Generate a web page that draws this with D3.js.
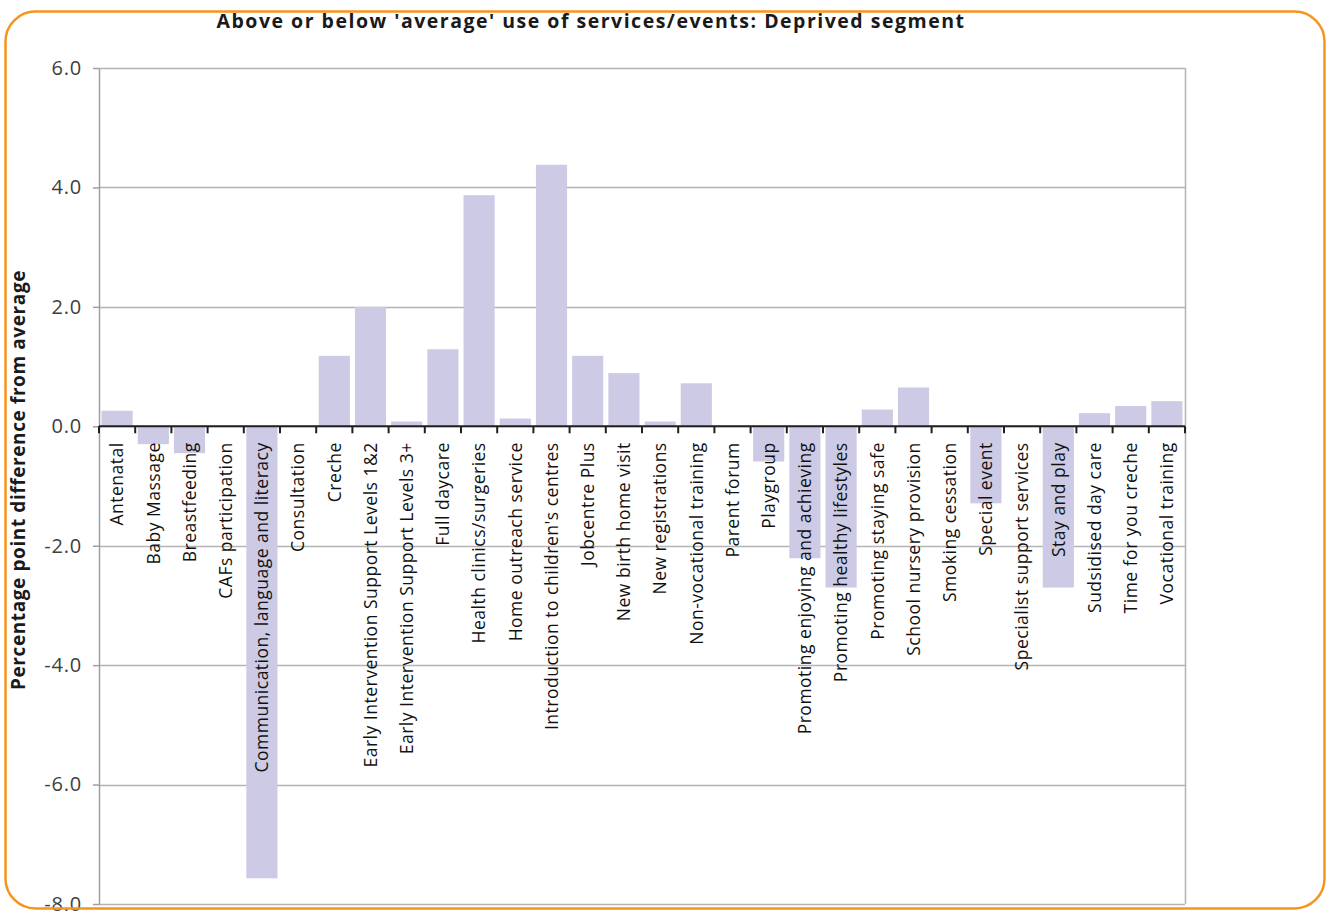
<!DOCTYPE html>
<html>
<head>
<meta charset="utf-8">
<script src="https://cdn.jsdelivr.net/npm/d3@7"></script>
<style>
  body { margin: 0; background: #fff; }
  svg { display: block; }
  .tick text { font-family: "Open Sans", sans-serif; }
</style>
</head>
<body>
<div id="chart"></div>
<script>
// data
CATEGORIES = ["Antenatal", "Baby Massage", "Breastfeeding", "CAFs participation",
  "Communication, language and literacy", "Consultation", "Creche",
  "Early Intervention Support Levels 1&2", "Early Intervention Support Levels 3+",
  "Full daycare", "Health clinics/surgeries", "Home outreach service",
  "Introduction to children's centres", "Jobcentre Plus", "New birth home visit",
  "New registrations", "Non-vocational training", "Parent forum", "Playgroup",
  "Promoting enjoying and achieving", "Promoting healthy lifestyles",
  "Promoting staying safe", "School nursery provision", "Smoking cessation",
  "Special event", "Specialist support services", "Stay and play",
  "Sudsidised day care", "Time for you creche", "Vocational training"]
VALUES = [0.26, -0.30, -0.45, 0.0, -7.57, 0.0, 1.18, 2.0, 0.08, 1.29, 3.87, 0.13,
  4.38, 1.18, 0.89, 0.08, 0.72, 0.0, -0.59, -2.21, -2.70, 0.28, 0.65, 0.0,
  -1.29, 0.0, -2.70, 0.22, 0.34, 0.42]
Y_TICKS = [6, 4, 2, 0, -2, -4, -6, -8]
TITLE = "Above or below 'average' use of services/events: Deprived segment"
Y_LABEL = "Percentage point difference from average"

WIDTH = 1326
HEIGHT = 911
margin = {left: 99, right: 141, top: 68, bottom: 7}

svg = d3.select("#chart").append("svg")
  .attr("width", WIDTH)
  .attr("height", HEIGHT)

x = d3.scaleBand()
  .domain(CATEGORIES)
  .range([margin.left, WIDTH - margin.right])
  .paddingInner(0.14)
  .paddingOuter(0.07)

y = d3.scaleLinear()
  .domain([-8, 6])
  .range([HEIGHT - margin.bottom, margin.top])

// gridlines
svg.append("g")
  .selectAll("line")
  .data(Y_TICKS)
  .enter()
  .append("line")
    .attr("x1", margin.left)
    .attr("x2", WIDTH - margin.right)
    .attr("y1", function(d){ return Math.round(y(d)) + 0.5 })
    .attr("y2", function(d){ return Math.round(y(d)) + 0.5 })
    .style("stroke", "#b4b4b4")
    .style("stroke-width", 1.5)

// right frame line
svg.append("line")
  .attr("x1", WIDTH - margin.right + 0.5)
  .attr("x2", WIDTH - margin.right + 0.5)
  .attr("y1", y(6))
  .attr("y2", y(-8))
  .style("stroke", "#b4b4b4")
  .style("stroke-width", 1.5)

// bars
svg.append("g")
  .selectAll("rect")
  .data(VALUES)
  .enter()
  .append("rect")
    .attr("x", function(d, i){ return x(CATEGORIES[i]) })
    .attr("width", x.bandwidth())
    .attr("y", function(d){ return y(Math.max(0, d)) })
    .attr("height", function(d){ return Math.abs(y(d) - y(0)) })
    .attr("fill", "#cccae4")

// y axis
yAxis = svg.append("g")
  .attr("transform", "translate(" + margin.left + ",0)")
  .call(d3.axisLeft(y).tickValues(Y_TICKS).tickFormat(d3.format(".1f")).tickSize(6).tickSizeOuter(0).tickPadding(11))
yAxis.select(".domain").style("stroke", "#a0a0a0").style("stroke-width", 1.5)
yAxis.selectAll(".tick line").style("stroke", "#a0a0a0").style("stroke-width", 1.5)
yAxis.selectAll(".tick text")
  .style("font-size", "20px")
  .style("letter-spacing", "0.8px")
  .style("fill", "#404040")
  .text(function(d){ return d3.format(".1f")(d).replace("−", "-") })

// x axis on zero line, ticks between categories
xAxisG = svg.append("g")
  .attr("transform", "translate(0," + y(0) + ")")
xAxisG.append("line")
  .attr("x1", margin.left)
  .attr("x2", WIDTH - margin.right)
  .style("stroke", "#202020")
  .style("stroke-width", 2)
xAxisG.selectAll(".sep")
  .data(d3.range(CATEGORIES.length + 1))
  .enter()
  .append("line")
    .attr("class", "sep")
    .attr("x1", function(d){ return margin.left + d * (WIDTH - margin.right - margin.left) / CATEGORIES.length })
    .attr("x2", function(d){ return margin.left + d * (WIDTH - margin.right - margin.left) / CATEGORIES.length })
    .attr("y1", 0)
    .attr("y2", 7)
    .style("stroke", "#202020")
    .style("stroke-width", 2)

// category labels
svg.append("g")
  .selectAll("text")
  .data(CATEGORIES)
  .enter()
  .append("text")
    .attr("transform", function(d){
      return "translate(" + (x(d) + x.bandwidth() / 2) + "," + (y(0) + 16) + ") rotate(-90)"
    })
    .attr("text-anchor", "end")
    .attr("dy", "0.36em")
    .style("font-family", "'Open Sans', sans-serif")
    .style("font-size", "17.5px")
    .style("letter-spacing", "0.5px")
    .style("fill", "#111")
    .text(function(d){ return d })

// title
svg.append("text")
  .attr("x", 591)
  .attr("y", 28)
  .attr("text-anchor", "middle")
  .style("font-family", "'Open Sans', sans-serif")
  .style("font-weight", "bold")
  .style("font-size", "19.5px")
  .style("letter-spacing", "1.5px")
  .style("fill", "#1a1a1a")
  .text(TITLE)

// y label
svg.append("text")
  .attr("transform", "translate(25,480) rotate(-90)")
  .attr("text-anchor", "middle")
  .style("font-family", "'Open Sans', sans-serif")
  .style("font-weight", "bold")
  .style("font-size", "19px")
  .style("letter-spacing", "0.6px")
  .style("fill", "#1a1a1a")
  .text(Y_LABEL)

// orange frame
svg.append("rect")
  .attr("x", 5.5)
  .attr("y", 11.5)
  .attr("width", 1319)
  .attr("height", 897)
  .attr("rx", 30)
  .attr("ry", 30)
  .attr("fill", "none")
  .attr("stroke", "#f7941d")
  .attr("stroke-width", 2.5)
</script>
</body>
</html>
